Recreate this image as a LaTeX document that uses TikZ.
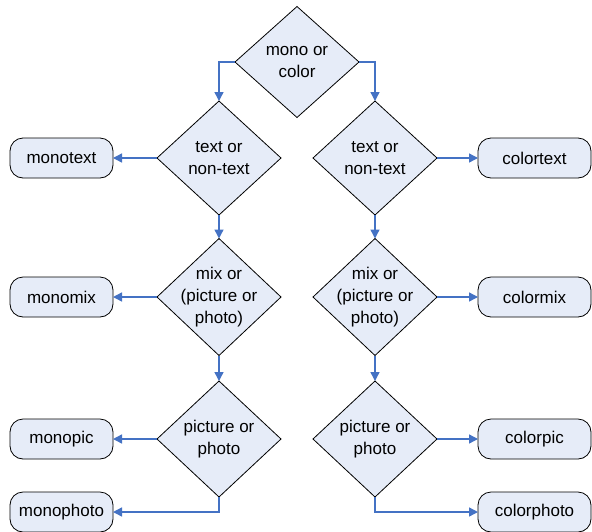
\documentclass[tikz,border=0pt]{standalone}
\usepackage{fontspec}
\setmainfont{Liberation Sans}
\usetikzlibrary{shapes.geometric,arrows.meta}
\definecolor{flowblue}{RGB}{68,114,196}
\definecolor{boxfill}{RGB}{230,236,248}
\begin{document}
\begin{tikzpicture}[x=1pt, y=-1pt,
        decision/.style={diamond, draw=black, fill=boxfill, line width=0.8pt,
            minimum width=124pt, minimum height=114pt, inner sep=0pt, outer sep=0pt},
        qtext/.style={align=center, font=\fontsize{17}{21.7}\selectfont},
        terminal/.style={draw=black, fill=boxfill, line width=0.8pt, rounded corners=13pt,
            minimum height=40pt, inner sep=0pt, outer sep=0pt, font=\fontsize{17}{21.7}\selectfont},
        flow/.style={draw=flowblue, line width=1.4pt, -{Triangle[length=9pt,width=9pt]}}]
    \useasboundingbox[fill=white] (0,0) rectangle (592,531);

    \node[decision, minimum height=111pt] (top) at (297,62) {};
    \node[qtext] (toptext) at (top) {mono or\\color};

    \foreach \nm/\x/\tx/\tw/\a/\b in {mono/219/61.5/103/west/east, color/375/534.5/113/east/west} {
            \node[decision] (\nm q1) at (\x,158) {};
            \node[qtext] (\nm q1text) at (\nm q1) {text or\\non-text};
            \node[decision, minimum height=117pt] (\nm q2) at (\x,297) {};
            \node[qtext] (\nm q2text) at (\nm q2) {mix or\\(picture or\\photo)};
            \node[decision, minimum height=116pt] (\nm q3) at (\x,439) {};
            \node[qtext] (\nm q3text) at (\nm q3) {picture or\\photo};

            \node[terminal, minimum width=\tw pt] (\nm text) at (\tx,158) {\nm text};
            \node[terminal, minimum width=\tw pt] (\nm mix) at (\tx,297) {\nm mix};
            \node[terminal, minimum width=\tw pt] (\nm pic) at (\tx,439) {\nm pic};
            \node[terminal, minimum width=\tw pt] (\nm photo) at (\tx,512) {\nm photo};

            \draw[flow] (\nm q1.south) -- (\nm q2.north);
            \draw[flow] (\nm q2.south) -- (\nm q3.north);
            \draw[flow] (\nm q1.\a) -- (\nm text.\b);
            \draw[flow] (\nm q2.\a) -- (\nm mix.\b);
            \draw[flow] (\nm q3.\a) -- (\nm pic.\b);
            \draw[flow] (\nm q3.south) |- (\nm photo.\b);
        }

    \draw[flow] (top.west) -| (monoq1.north);
    \draw[flow] (top.east) -| (colorq1.north);
\end{tikzpicture}
\end{document}
